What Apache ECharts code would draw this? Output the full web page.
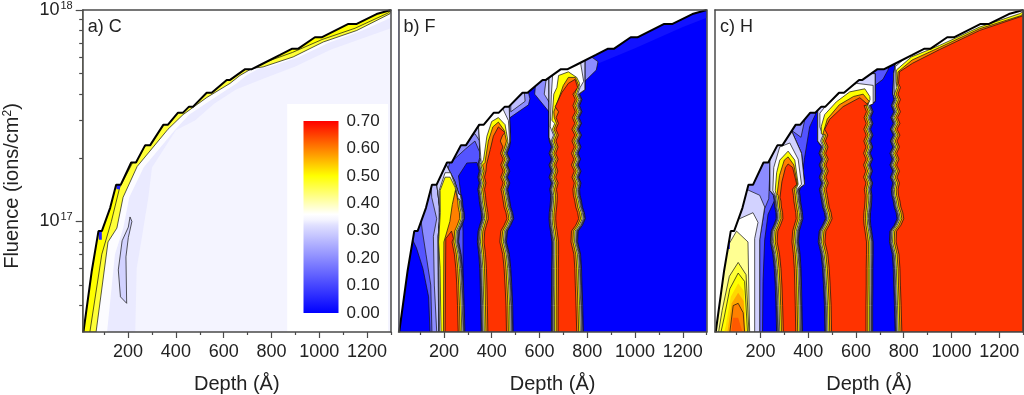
<!DOCTYPE html>
<html>
<head>
<meta charset="utf-8">
<title>Fluence vs depth</title>
<script src="https://cdn.jsdelivr.net/npm/echarts@6/dist/echarts.min.js"></script>
<style>
html,body{margin:0;padding:0;background:#fff}
#main{width:1024px;height:395px}
</style>
</head>
<body>
<div id="main"></div>
<script>
//fluence values are in units of 1e16 ions/cm2, depth in angstrom
var FLUENCE_UNIT = 1e16;
var depthMajorTicks = [200, 400, 600, 800, 1000, 1200];
var depthMinorTicks = [100, 300, 500, 700, 900, 1100, 1300];
//top value sits a hair under 1e18, the exact one drops off the log axis
var fluenceMajorTicks = [1e17, 0.99999e18];
var fluenceMinorTicks = [3e16, 4e16, 5e16, 6e16, 7e16, 8e16, 9e16, 2e17, 3e17, 4e17, 5e17, 6e17, 7e17, 8e17, 9e17];
var colorbarTicks = [0, 0.1, 0.2, 0.3, 0.4, 0.5, 0.6, 0.7];
var panelTitles = ['a) C', 'b) F', 'c) H'];

//colour scale
var scaleLevels = [0, 0.32, 0.34, 0.36, 0.5, 0.7];
var scaleColors = ['#0000ff', '#e0e0ff', '#f4f4ff', '#ffffff', '#ffff00', '#ff0000'];
//levels that get a black contour line, the others are only shading
var contourLevels = [0.1, 0.12, 0.2, 0.27, 0.3, 0.36, 0.42, 0.47, 0.5, 0.6, 0.66];

//sputtered surface, stair steps come from the measurement rows
var surfaceDepth = [13, 48, 76, 90, 125, 150, 169, 213, 233, 271, 292, 348, 367, 409, 430, 455, 472, 529, 550, 613, 627, 690, 718, 759, 836, 885, 911, 982, 1010, 1122, 1157, 1240, 1300];
var surfaceFluence = [3, 5.83, 9, 9, 11.6, 14.9, 14.9, 19, 19, 22.9, 22.9, 28.7, 28.7, 32.7, 32.7, 34.9, 34.9, 40.6, 40.6, 46.7, 46.7, 52.5, 52.5, 55.4, 61.3, 65.5, 65.5, 74.3, 74.3, 85.9, 85.9, 95.7, 100];

//interfaces between the layers, one depth for each row
var fluenceRows = [3, 4, 5, 6, 7, 8, 9, 9.6, 10.3, 11, 11.7, 12.5, 13.3, 14.2, 15.2, 16.2, 17.3, 18.5, 19.7, 21, 22.5, 24, 25.6, 27.3, 29.1, 31, 33, 35.3, 37.7, 40, 43, 46, 49, 52, 56, 60, 70, 85, 100];
var iface1 = [278, 275, 272, 268, 262, 252, 255, 266, 276, 275, 270, 268, 264, 258, 258, 256, 256, 256, 256, 256, 256, 256, 256, 256, 256, 256, 256, 256, 256, 256, 256, 256, 256, 256, 256, 256, 256, 256, 256];
var iface2 = [366, 364, 362, 360, 356, 350, 353, 360, 368, 366, 362, 358, 356, 352, 358, 352, 358, 352, 358, 352, 360, 358, 360, 360, 360, 360, 360, 360, 360, 360, 360, 360, 360, 360, 360, 360, 360, 360, 360];
var iface3 = [480, 478, 474, 470, 464, 452, 456, 470, 482, 478, 470, 466, 462, 457, 466, 456, 466, 456, 466, 455, 465, 454, 464, 454, 462, 455, 463, 455, 462, 458, 460, 460, 460, 460, 460, 460, 460, 460, 460];
var iface4 = [660, 660, 661, 661, 662, 662, 656, 652, 650, 651, 654, 656, 657, 653, 660, 650, 659, 650, 660, 650, 660, 651, 661, 651, 661, 652, 662, 652, 662, 655, 664, 658, 664, 660, 660, 660, 660, 660, 660];
var iface5 = [774, 771, 768, 766, 762, 750, 752, 770, 782, 778, 770, 766, 760, 758, 764, 754, 764, 752, 762, 752, 764, 754, 766, 754, 766, 756, 768, 758, 768, 758, 768, 760, 765, 760, 760, 760, 760, 760, 760];

//contour levels crossed at an interface and their distance from it (angstrom)
var edgeLevels = [0.1, 0.2, 0.3, 0.36, 0.5, 0.6, 0.66];
var edgeOffsets = [-10, -8, -5, -2, 3, 10, 18];

//panel a regions: [level, outline]
var panelCRegions = [
	[0.33, [[230, 3], [236, 6], [262, 9], [285, 13], [300, 18], [400, 27], [480, 30], [560, 36], [650, 42], [760, 47], [900, 54], [1050, 65], [1300, 82], [1300, 100], [10, 100], [10, 3]]],
	[0.355, [[112, 3], [145, 7], [180, 9.3], [205, 13], [265, 18], [395, 27], [455, 32], [555, 38], [655, 45], [695, 49], [750, 53], [795, 54], [915, 60], [1040, 70], [1180, 80], [1300, 92], [1300, 100], [10, 100], [10, 3]]],
	[0.47, [[66, 3], [116, 8], [153, 9.3], [179, 13], [238, 18.2], [367, 27.3], [430, 32], [530, 38.6], [627, 45], [668, 49], [720, 53], [765, 53.8], [891, 60], [1017, 70.6], [1157, 80], [1296, 96], [1300, 100], [10, 100], [10, 3]]],
	[0.5, [[40, 3], [90, 7], [130, 10], [165, 14.5], [230, 20], [360, 29.5], [425, 34], [525, 40.5], [620, 47], [665, 50.5], [715, 54.5], [762, 56], [888, 63], [1012, 72.5], [1150, 82], [1290, 97], [1300, 100], [10, 100], [10, 3]]],
	[0.3, [[208, 10.5], [216, 10], [201, 8.4], [191, 6.8], [194, 4.1], [168, 4.4], [159, 5.9], [175, 8.1], [201, 9.4]]],
	[0.05, [[76, 9], [90, 9], [90, 8.2], [78, 8.2]]],
	[0.05, [[150, 14.9], [169, 14.9], [165, 14.2], [152, 14.2]]]
];
//white box behind the colour bar
var legendBoxCorners = [[866, 3], [1288, 3], [1288, 35.9], [866, 35.9]];

//panel b regions
var panelFRegions = [
	[0.025, [[780, 52], [1000, 66], [1200, 83], [1300, 92], [1300, 100], [780, 70]]],
	[0.12, [[142, 3], [136, 4.4], [112, 6], [85, 7.5], [60, 8.6], [20, 9], [20, 40], [345, 40], [359, 17], [338, 19], [296, 18.9], [261, 16.4], [275, 12.5], [280, 9], [280, 3]]],
	[0.2, [[150, 3], [145, 5], [125, 7], [110, 9], [100, 11], [100, 40], [345, 40], [352, 21], [330, 24], [290, 22], [250, 20], [225, 19], [190, 14], [180, 8], [175, 3]]],
	[0.27, [[170, 3], [160, 5], [156, 8.5], [170, 10.3], [149, 13], [145, 16], [170, 20], [190, 24], [190, 40], [345, 40], [350, 24], [330, 26], [290, 24], [240, 21], [200, 19], [180, 14], [180, 3]]],
	[0.2, [[463, 28], [477, 31], [554, 35.6], [560, 38], [520, 60], [460, 60]]],
	[0.27, [[480, 33], [540, 37], [530, 50], [480, 50]]],
	[0.2, [[580, 40], [600, 37.5], [640, 33], [655, 30], [680, 40], [680, 70], [600, 70]]],
	[0.3, [[620, 40], [645, 36], [660, 34], [680, 42], [680, 60], [640, 60]]],
	[0.2, [[760, 51], [790, 46], [838, 52], [845, 57], [800, 62], [760, 62]]]
];
//stripe: left edge, right edge, caps for outer, white, yellow, orange and red levels
var panelFStripes = [
	[null, iface1,
		[[178, 3], [176, 8.5], [185, 11], [170, 15], [210, 18.5], [245, 15.5], [262, 13.5]],
		[[182, 3], [178, 8.5], [182, 11], [180, 14], [205, 17], [228, 17], [250, 14.5], [258, 13]],
		[[188, 3], [184, 6], [178, 8], [185, 11], [184, 14], [205, 16.2], [226, 16.2], [247, 14.5], [254, 13]],
		[[198, 3], [200, 8], [225, 10], [235, 12], [248, 14]],
		[[205, 3], [208, 8.3], [232, 9], [240, 8.3]]],
	[iface2, iface3,
		[[350, 20], [345, 40], [470, 45], [478, 24]],
		[[356, 19], [345, 28], [360, 30], [442, 35], [470, 30], [475, 24]],
		[[366, 19.6], [380, 25.3], [400, 29.7], [428, 31], [456, 28.7], [468, 24]],
		[[372, 19], [386, 24], [405, 28], [428, 29.5], [452, 27], [462, 24]],
		[[378, 18.5], [394, 21.9], [407, 25.3], [428, 28], [456, 26.3]]],
	[iface4, iface5,
		[[640, 25], [640, 50], [700, 70], [790, 60], [790, 42]],
		[[645, 28], [650, 40], [660, 60], [720, 65], [770, 58], [785, 46]],
		[[652, 30], [660, 40], [673, 43], [680, 49], [721, 51], [756, 48], [768, 45]],
		[[660, 33], [680, 38], [700, 44], [721, 48], [750, 48], [764, 44]],
		[[666, 34.9], [693, 40.6], [721, 45], [749, 47], [760, 43]]]
];

//panel c regions
var panelHRegions = [
	[0.12, [[209, 3], [211, 5.2], [218, 8.2], [232, 10.8], [262, 12.8], [290, 14], [365, 14], [385, 20], [406, 28], [430, 32], [440, 36], [440, 60], [10, 60], [10, 3]]],
	[0.2, [[197, 3], [197, 8.3], [218, 11.5], [235, 12.8], [240, 18], [265, 22], [330, 27], [370, 25], [385, 30], [385, 50], [10, 50], [10, 3]]],
	[0.12, [[640, 38], [680, 44], [713, 47], [734, 52], [750, 60], [640, 70]]],
	[0.3, [[197, 3], [197, 8.2], [218, 11.7], [197, 13.3], [141, 14.2], [30, 14.2], [10, 3]]],
	[0.36, [[176, 3], [176, 8.3], [190, 9.9], [169, 11], [113, 10.3], [10, 10], [10, 3]]],
	[0.42, [[155, 3], [148, 8], [100, 9], [44, 7], [10, 5], [10, 3]]],
	[0.47, [[152, 3], [140, 5.6], [107, 6.4], [70, 5.5], [40, 3.8], [25, 3]]],
	[0.5, [[146, 3], [134, 5.2], [107, 5.7], [72, 4.8], [48, 3.5], [35, 3]]],
	[0.53, [[140, 3], [130, 4.7], [107, 5.1], [76, 4.4], [55, 3.2], [48, 3]]],
	[0.57, [[137, 3], [130, 4.2], [107, 4.6], [80, 4.1], [62, 3]]],
	[0.6, [[134, 3], [128, 3.7], [107, 4.1], [86, 4], [72, 3]]],
	[0.63, [[125, 3], [107, 3.5], [85, 3.5], [78, 3]]],
	[0.05, [[56, 8], [72, 8], [72, 7.4], [58, 7.4]]]
];
var panelHStripes = [
	[iface1, iface2,
		[[240, 14], [240, 20], [281, 27], [323, 28], [372, 21], [385, 15]],
		[[252, 14], [256, 18], [281, 22.5], [323, 23.5], [358, 19.7], [372, 15]],
		[[262, 14], [268, 17], [281, 19.5], [316, 21.5], [344, 19.5], [358, 15]],
		[[270, 13.5], [280, 16.5], [300, 19.5], [316, 20.2], [340, 18.5], [355, 15]],
		[[282, 13], [290, 15.4], [305, 18], [316, 18.7], [335, 18], [352, 15]]],
	[iface3, iface4,
		[[440, 24], [440, 34], [470, 39], [532, 46], [602, 50], [680, 50], [680, 37]],
		[[449, 28], [449, 32.5], [469, 34.7], [532, 40.6], [602, 45], [672, 44], [672, 36]],
		[[455, 26], [455, 28.2], [469, 32], [518, 36.8], [574, 41], [637, 42.4], [658, 39]],
		[[462, 26], [480, 30.5], [530, 35.6], [590, 39], [630, 40], [655, 37]],
		[[469, 27.3], [490, 30.4], [546, 34.9], [616, 38.5], [651, 35.6]]],
	[iface5, null,
		[[755, 40], [758, 50], [770, 60], [840, 68], [950, 80], [1117, 95], [1300, 110], [1300, 3]],
		[[762, 40], [765, 54], [832, 63], [950, 73], [1117, 88], [1300, 103], [1300, 3]],
		[[768, 46], [769, 52], [832, 60], [950, 68], [1117, 83], [1284, 96], [1300, 98], [1300, 3]],
		[[772, 45], [776, 51], [835, 58], [950, 66.5], [1117, 81.5], [1290, 94], [1300, 96], [1300, 3]],
		[[778, 45], [782, 51], [837, 56], [950, 65], [1117, 80], [1284, 92.6], [1300, 94], [1300, 3]]]
];

function hexToRgb(hex) {
	return [parseInt(hex.substr(1, 2), 16), parseInt(hex.substr(3, 2), 16), parseInt(hex.substr(5, 2), 16)];
}
//interpolate the colour scale
function colorFor(level) {
	for (var i = 1; i < scaleLevels.length; i++) {
		if (level <= scaleLevels[i]) {
			var t = (level - scaleLevels[i - 1]) / (scaleLevels[i] - scaleLevels[i - 1]);
			var a = hexToRgb(scaleColors[i - 1]);
			var b = hexToRgb(scaleColors[i]);
			return 'rgb(' + Math.round(a[0] + (b[0] - a[0]) * t) + ',' + Math.round(a[1] + (b[1] - a[1]) * t) + ',' + Math.round(a[2] + (b[2] - a[2]) * t) + ')';
		}
	}
	return scaleColors[scaleColors.length - 1];
}

//outline of one contour of a stripe: left edge going up, the cap, right edge going down
function stripeOutline(left, right, cap, offset) {
	var points = [];
	var i;
	if (left) {
		for (i = 0; i < fluenceRows.length; i++) {
			if (fluenceRows[i] < cap[0][1]) points.push([left[i] + offset, fluenceRows[i]]);
		}
	}
	points = points.concat(cap);
	if (right) {
		for (i = fluenceRows.length - 1; i >= 0; i--) {
			if (fluenceRows[i] < cap[cap.length - 1][1]) points.push([right[i] - offset, fluenceRows[i]]);
		}
	}
	return points;
}

function stripeRegions(stripes) {
	var out = [];
	stripes.forEach(function (s) {
		edgeLevels.forEach(function (level, k) {
			var cap = k < 3 ? s[2] : s[k];
			out.push({level: level, points: stripeOutline(s[0], s[1], cap, edgeOffsets[k])});
		});
	});
	return out;
}

function plainRegions(list) {
	return list.map(function (r) {
		return {level: r[0], points: r[1]};
	});
}

var skyOutline = [];
for (var si = 0; si < surfaceDepth.length; si++) {
	skyOutline.push([surfaceDepth[si], surfaceFluence[si]]);
}
skyOutline.push([1300, 100], [10, 100], [10, 3]);
var fullArea = [[10, 3], [1300, 3], [1300, 100], [10, 100]];
var surfaceLine = surfaceDepth.map(function (d, i) {
	return [d, surfaceFluence[i] * FLUENCE_UNIT];
});

function fixedFill(color, points) {
	return {color: color, points: points};
}

var panels = [
	{left: 82.7, baseLevel: 0.34, regions: plainRegions(panelCRegions).concat([fixedFill('#ffffff', legendBoxCorners)])},
	{left: 398.5, baseLevel: 0, regions: plainRegions(panelFRegions).concat(stripeRegions(panelFStripes))},
	{left: 715, baseLevel: 0, regions: plainRegions(panelHRegions).concat(stripeRegions(panelHStripes))}
];

var axisColor = '#4a4a4a';
var textColor = '#222';
var fontName = '"Liberation Sans", Arial, sans-serif';

var option = {
	animation: false,
	backgroundColor: '#fff',
	title: [],
	grid: [],
	xAxis: [],
	yAxis: [],
	series: []
};

panels.forEach(function (p, n) {
	//outerBoundsMode none: keep the plot where it is, do not shrink it for the labels
	option.grid.push({left: p.left, top: 10, width: 308.2, height: 322, outerBoundsMode: 'none'});
	option.title.push({
		text: panelTitles[n], left: p.left, top: 13,
		textStyle: {fontFamily: fontName, fontSize: 18, fontWeight: 'normal', color: textColor}
	});
	var xBase = {type: 'value', gridIndex: n, min: 10, max: 1300, z: 10, splitLine: {show: false}};
	var lineStyle = {show: true, onZero: false, lineStyle: {color: axisColor, width: 1.5}};
	var xIndex = option.xAxis.length;
	//major ticks with labels, minor ticks, frame line on top
	option.xAxis.push(Object.assign({}, xBase, {
		position: 'bottom', axisLine: lineStyle,
		axisTick: {show: true, customValues: depthMajorTicks, length: 6, lineStyle: {color: axisColor, width: 1.2}},
		axisLabel: {
			customValues: depthMajorTicks, margin: 11, fontFamily: fontName, fontSize: 18, color: textColor,
			formatter: function (v) {
				return String(v);
			}
		},
		name: 'Depth (Å)', nameLocation: 'middle', nameGap: 42,
		nameTextStyle: {fontFamily: fontName, fontSize: 20, color: textColor}
	}));
	option.xAxis.push(Object.assign({}, xBase, {
		position: 'bottom', axisLine: {show: false},
		axisTick: {show: true, customValues: depthMinorTicks, length: 3, lineStyle: {color: axisColor, width: 1.2}},
		axisLabel: {show: false}
	}));
	option.xAxis.push(Object.assign({}, xBase, {
		position: 'top', axisLine: lineStyle, axisTick: {show: false}, axisLabel: {show: false}
	}));

	var yBase = {type: 'log', gridIndex: n, min: 3e16, max: 1e18, z: 10, splitLine: {show: false}, minorTick: {show: false}, minorSplitLine: {show: false}};
	var yIndex = option.yAxis.length;
	var yLeft = Object.assign({}, yBase, {position: 'left', axisLine: lineStyle, axisTick: {show: false}, axisLabel: {show: false}});
	if (n === 0) {
		yLeft.axisTick = {show: true, customValues: fluenceMajorTicks, length: 7, lineStyle: {color: axisColor, width: 1.2}};
		yLeft.axisLabel = {
			show: true, customValues: fluenceMajorTicks, margin: 10,
			formatter: function (v) {
				return '{b|10}{s|' + Math.round(Math.log(v) / Math.LN10) + '}';
			},
			rich: {
				b: {fontFamily: fontName, fontSize: 18, color: textColor},
				s: {fontFamily: fontName, fontSize: 11, color: textColor, padding: [0, 0, 9, 1]}
			}
		};
		yLeft.name = '{b|Fluence (ions/cm}{s|2}{b|)}';
		yLeft.nameLocation = 'middle';
		yLeft.nameGap = 60;
		yLeft.nameRotate = 90;
		yLeft.nameTextStyle = {
			padding: [0, 30, 0, 0],
			rich: {
				b: {fontFamily: fontName, fontSize: 20, color: textColor},
				s: {fontFamily: fontName, fontSize: 12, color: textColor, padding: [0, 0, 9, 0]}
			}
		};
	}
	option.yAxis.push(yLeft);
	option.yAxis.push(Object.assign({}, yBase, {position: 'right', axisLine: lineStyle, axisTick: {show: false}, axisLabel: {show: false}}));
	if (n === 0) {
		option.yAxis.push(Object.assign({}, yBase, {
			position: 'left', axisLine: {show: false}, axisLabel: {show: false},
			axisTick: {show: true, customValues: fluenceMinorTicks, length: 3.5, lineStyle: {color: axisColor, width: 1.2}}
		}));
	}

	//filled contours, drawn in order, the sky covers whatever pokes above the surface
	var regions = [{level: p.baseLevel, points: fullArea}].concat(p.regions).concat([fixedFill('#ffffff', skyOutline)]);
	option.series.push({
		type: 'custom',
		xAxisIndex: xIndex,
		yAxisIndex: yIndex,
		coordinateSystem: 'cartesian2d',
		clip: true,
		silent: true,
		z: 2,
		encode: {x: 0, y: 1},
		data: regions.map(function (r) {
			return [r.points[0][0], r.points[0][1] * FLUENCE_UNIT];
		}),
		renderItem: function (params, api) {
			var r = regions[params.dataIndex];
			var hasLine = !r.color && contourLevels.indexOf(r.level) >= 0;
			return {
				type: 'polygon',
				shape: {
					points: r.points.map(function (q) {
						return api.coord([q[0], q[1] * FLUENCE_UNIT]);
					})
				},
				style: {
					fill: r.color || colorFor(r.level),
					stroke: hasLine ? '#111' : null,
					lineWidth: hasLine ? 0.7 : 0
				}
			};
		}
	});
	option.series.push({
		type: 'line',
		xAxisIndex: xIndex,
		yAxisIndex: yIndex,
		data: surfaceLine,
		showSymbol: false,
		silent: true,
		z: 3,
		lineStyle: {color: '#000', width: 2}
	});
});

//colour bar, lives inside panel a
var barGrid = option.grid.length;
option.grid.push({left: 303.5, top: 121, width: 35, height: 192, z: 5, outerBoundsMode: 'none'});
option.xAxis.push({type: 'value', gridIndex: barGrid, min: 0, max: 1, show: false});
option.yAxis.push({
	type: 'value', gridIndex: barGrid, min: 0, max: 0.7, interval: 0.1, position: 'right',
	z: 20, axisLine: {show: false}, axisTick: {show: false}, splitLine: {show: false},
	axisLabel: {
		margin: 8, fontFamily: fontName, fontSize: 17, color: textColor,
		formatter: function (v) {
			return v.toFixed(2);
		}
	}
});
option.series.push({
	type: 'custom',
	xAxisIndex: option.xAxis.length - 1,
	yAxisIndex: option.yAxis.length - 1,
	silent: true,
	z: 6,
	encode: {x: 0, y: 1},
	data: [[0, colorbarTicks[0]], [1, colorbarTicks[colorbarTicks.length - 1]]],
	renderItem: function (params, api) {
		if (params.dataIndex !== 0) return;
		var lo = api.coord([0, colorbarTicks[0]]);
		var hi = api.coord([1, colorbarTicks[colorbarTicks.length - 1]]);
		var top = colorbarTicks[colorbarTicks.length - 1];
		return {
			type: 'rect',
			shape: {x: lo[0], y: hi[1], width: hi[0] - lo[0], height: lo[1] - hi[1]},
			style: {
				fill: new echarts.graphic.LinearGradient(0, 1, 0, 0, scaleLevels.map(function (l, i) {
					return {offset: l / top, color: scaleColors[i]};
				}))
			}
		};
	}
});

var myChart = echarts.init(document.getElementById('main'), null, {renderer: 'canvas'});
myChart.setOption(option);
</script>
</body>
</html>
